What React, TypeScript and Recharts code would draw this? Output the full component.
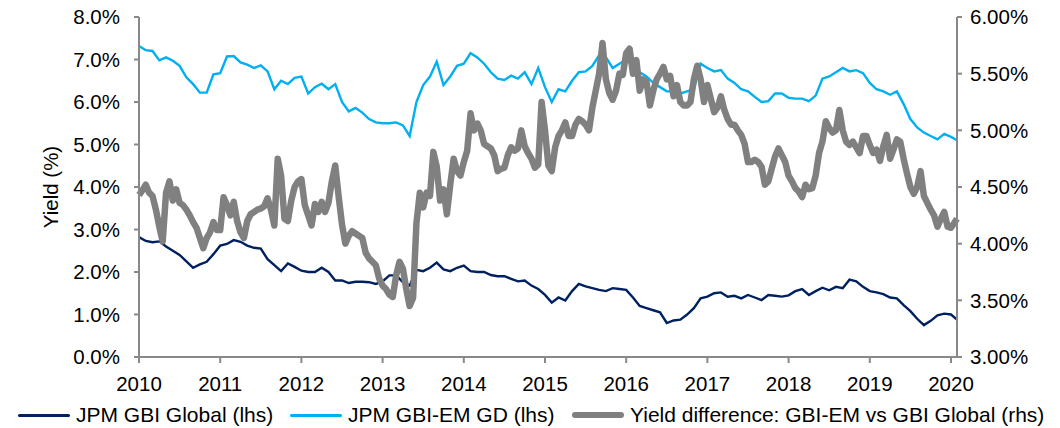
import React from 'react';
import { LineChart, Line, XAxis, YAxis, Label } from 'recharts';

// Monthly readings, Jan 2010 .. Jan 2020, plus the last print (late Jan 2020)
const gbiGlobal = [
  2.82, 2.73, 2.7, 2.72, 2.6, 2.5, 2.4, 2.25, 2.1, 2.18, 2.24, 2.42,
  2.62, 2.66, 2.75, 2.71, 2.62, 2.57, 2.55, 2.3, 2.16, 2.02, 2.2, 2.12,
  2.03, 2.0, 2.0, 2.1, 2.0, 1.8, 1.8, 1.74, 1.77, 1.77, 1.76, 1.72,
  1.78, 1.92, 1.92, 1.76, 1.68, 2.05, 2.02, 2.1, 2.22, 2.06, 2.02, 2.1,
  2.15, 2.02, 2.0, 2.0, 1.93, 1.9, 1.9, 1.84, 1.78, 1.8, 1.68, 1.6,
  1.46, 1.28, 1.4, 1.33, 1.55, 1.72, 1.66, 1.62, 1.58, 1.55, 1.62, 1.6,
  1.58, 1.4, 1.2, 1.15, 1.1, 1.05, 0.8, 0.86, 0.88, 1.0, 1.15, 1.38,
  1.42, 1.5, 1.52, 1.42, 1.44, 1.38, 1.46, 1.4, 1.34, 1.46, 1.44, 1.42,
  1.45, 1.55, 1.6, 1.46, 1.55, 1.63, 1.57, 1.65, 1.62, 1.82, 1.78, 1.65,
  1.55, 1.52, 1.48, 1.4, 1.38, 1.22, 1.08, 0.9, 0.75, 0.85, 0.98, 1.02,
  1.0, 0.88,
];

const gbiEm = [
  7.32, 7.22, 7.2, 6.98, 7.05, 6.97, 6.85, 6.58, 6.42, 6.22, 6.22, 6.65,
  6.68, 7.07, 7.08, 6.93, 6.88, 6.8, 6.86, 6.72, 6.3, 6.5, 6.42, 6.57,
  6.6, 6.2, 6.35, 6.43, 6.3, 6.42, 6.0, 5.78, 5.86, 5.75, 5.6, 5.52,
  5.5, 5.5, 5.52, 5.45, 5.2, 6.0, 6.4, 6.6, 6.95, 6.4, 6.6, 6.85,
  6.9, 7.15, 7.05, 6.9, 6.7, 6.55, 6.52, 6.62, 6.55, 6.7, 6.42, 6.8,
  6.35, 6.0, 6.3, 6.25, 6.5, 6.7, 6.72, 6.85, 7.1, 7.05, 6.8, 6.9,
  7.0, 6.85, 6.7, 6.6, 6.45, 6.35, 6.25, 6.25, 6.2, 6.25, 6.3, 6.9,
  6.8, 6.72, 6.75, 6.55, 6.45, 6.3, 6.25, 6.12, 6.0, 6.02, 6.2, 6.2,
  6.1, 6.08, 6.08, 6.02, 6.15, 6.55, 6.6, 6.7, 6.8, 6.72, 6.75, 6.68,
  6.45, 6.3, 6.25, 6.17, 6.25, 5.95, 5.6, 5.4, 5.28, 5.2, 5.12, 5.25,
  5.18, 5.1,
];

// Twice-monthly readings, Jan 2010 .. Jan 2020, plus the last print
const yieldDiff = [
  4.43, 4.47, 4.52, 4.45, 4.42, 4.3, 4.15, 4.02, 4.45, 4.55, 4.38, 4.48, 4.36, 4.34, 4.3, 4.25, 4.19, 4.14, 4.05, 3.96, 4.05, 4.1, 4.19, 4.12,
  4.12, 4.41, 4.34, 4.25, 4.37, 4.2, 4.1, 4.05, 4.2, 4.26, 4.28, 4.3, 4.31, 4.33, 4.4, 4.3, 4.16, 4.75, 4.6, 4.22, 4.2, 4.38, 4.5, 4.55,
  4.57, 4.34, 4.25, 4.16, 4.35, 4.28, 4.37, 4.28, 4.36, 4.55, 4.69, 4.42, 4.17, 4.0, 4.07, 4.11, 4.09, 4.07, 4.05, 3.92, 3.87, 3.84, 3.81, 3.69,
  3.63, 3.6, 3.55, 3.53, 3.72, 3.84, 3.78, 3.6, 3.45, 3.52, 4.18, 4.45, 4.32, 4.45, 4.42, 4.81, 4.68, 4.38, 4.48, 4.26, 4.52, 4.75, 4.64, 4.6,
  4.72, 4.82, 5.15, 5.0, 5.06, 5.0, 4.88, 4.86, 4.84, 4.78, 4.64, 4.66, 4.67, 4.78, 4.85, 4.82, 4.84, 5.0, 4.86, 4.8, 4.75, 4.67, 4.7, 5.25,
  5.0, 4.69, 4.64, 4.85, 4.95, 5.0, 5.07, 4.95, 4.95, 5.05, 5.1, 5.08, 5.05, 5.0, 5.2, 5.35, 5.5, 5.77, 5.45, 5.33, 5.27, 5.35, 5.5, 5.49,
  5.68, 5.72, 5.5, 5.62, 5.35, 5.45, 5.43, 5.22, 5.35, 5.45, 5.5, 5.56, 5.45, 5.48, 5.3, 5.4, 5.25, 5.22, 5.22, 5.25, 5.45, 5.57, 5.45, 5.25,
  5.4, 5.28, 5.16, 5.2, 5.3, 5.18, 5.1, 5.05, 5.05, 5.0, 4.96, 4.88, 4.72, 4.72, 4.74, 4.72, 4.68, 4.52, 4.55, 4.66, 4.77, 4.84, 4.78, 4.72,
  4.6, 4.55, 4.49, 4.46, 4.41, 4.52, 4.48, 4.49, 4.6, 4.8, 4.9, 5.08, 5.02, 4.98, 5.0, 5.18, 5.0, 4.9, 4.87, 4.9, 4.85, 4.8, 4.95, 4.95,
  4.87, 4.8, 4.83, 4.73, 4.86, 4.96, 4.75, 4.83, 4.92, 4.9, 4.75, 4.62, 4.5, 4.44, 4.5, 4.64, 4.42, 4.36, 4.3, 4.25, 4.15, 4.22, 4.28, 4.15,
  4.14, 4.22,
];

const START_YEAR = 2010;
const LAST_DATE = 2020.074;
const yearTicks = [2010, 2011, 2012, 2013, 2014, 2015, 2016, 2017, 2018, 2019, 2020];
const lhsTicks = [0, 1, 2, 3, 4, 5, 6, 7, 8];
const rhsTicks = [3, 3.5, 4, 4.5, 5, 5.5, 6];

const FONT = '"Liberation Sans", Arial, sans-serif';
const AXIS_GREY = '#898989';

// place readings on a time axis; the last value is the final print
const toSeries = (values: number[], perYear: number) =>
  values.map((v, i) => ({
    t: i === values.length - 1 ? LAST_DATE : START_YEAR + i / perYear,
    v,
  }));

const globalData = toSeries(gbiGlobal, 12);
const emData = toSeries(gbiEm, 12);
const diffData = toSeries(yieldDiff, 24);

const legendItems = [
  { label: 'JPM GBI Global (lhs)', color: '#002060', width: 3, left: 18 },
  { label: 'JPM GBI-EM GD (lhs)', color: '#00B0F0', width: 3, left: 290 },
  { label: 'Yield difference: GBI-EM vs GBI Global (rhs)', color: '#808080', width: 6, left: 572 },
];

const tickStyle = { fill: '#000', fontSize: 20.5, fontFamily: FONT };

export default function App() {
  return (
    <div style={{ position: 'absolute', left: 0, top: 0, width: 1060, height: 428, background: '#fff' }}>
      <LineChart width={1060} height={428} margin={{ top: 17, right: 0, left: 0, bottom: 0 }}>
        <XAxis
          dataKey="t"
          type="number"
          domain={[START_YEAR, LAST_DATE]}
          ticks={yearTicks}
          tickFormatter={(v: number) => String(Math.round(v))}
          allowDuplicatedCategory={false}
          height={71}
          tick={tickStyle}
          tickSize={6}
          tickMargin={13}
          stroke={AXIS_GREY}
          strokeWidth={2}
        />
        <YAxis
          yAxisId="lhs"
          domain={[0, 8]}
          ticks={lhsTicks}
          tickFormatter={(v: number) => `${v.toFixed(1)}%`}
          width={139}
          tick={tickStyle}
          tickSize={5}
          tickMargin={14}
          stroke={AXIS_GREY}
          strokeWidth={2}
        >
          <Label
            content={() => (
              <text
                x={50}
                y={187}
                transform="rotate(-90, 50, 187)"
                textAnchor="middle"
                dominantBaseline="central"
                style={{ fontSize: 20.5, fontFamily: FONT, fill: '#000' }}
              >
                Yield (%)
              </text>
            )}
          />
        </YAxis>
        <YAxis
          yAxisId="rhs"
          orientation="right"
          domain={[3, 6]}
          ticks={rhsTicks}
          tickFormatter={(v: number) => `${v.toFixed(2)}%`}
          width={103}
          tick={tickStyle}
          tickSize={5}
          tickMargin={8}
          stroke={AXIS_GREY}
          strokeWidth={2}
        />
        <Line
          yAxisId="lhs"
          data={globalData}
          dataKey="v"
          name="JPM GBI Global (lhs)"
          stroke="#002060"
          strokeWidth={2.4}
          dot={false}
          type="linear"
          isAnimationActive={false}
        />
        <Line
          yAxisId="lhs"
          data={emData}
          dataKey="v"
          name="JPM GBI-EM GD (lhs)"
          stroke="#00B0F0"
          strokeWidth={2.4}
          dot={false}
          type="linear"
          isAnimationActive={false}
        />
        <Line
          yAxisId="rhs"
          data={diffData}
          dataKey="v"
          name="Yield difference: GBI-EM vs GBI Global (rhs)"
          stroke="#808080"
          strokeWidth={6.5}
          strokeLinejoin="round"
          dot={false}
          type="linear"
          isAnimationActive={false}
        />
      </LineChart>
      {legendItems.map((item) => (
        <div
          key={item.label}
          style={{
            position: 'absolute',
            left: item.left,
            top: 401,
            height: 28,
            display: 'flex',
            alignItems: 'center',
            fontFamily: FONT,
            fontSize: 21,
            color: '#000',
            whiteSpace: 'nowrap',
          }}
        >
          <span style={{ display: 'inline-block', width: 52, height: item.width, background: item.color, borderRadius: item.width / 2, marginRight: 6 }} />
          {item.label}
        </div>
      ))}
    </div>
  );
}
